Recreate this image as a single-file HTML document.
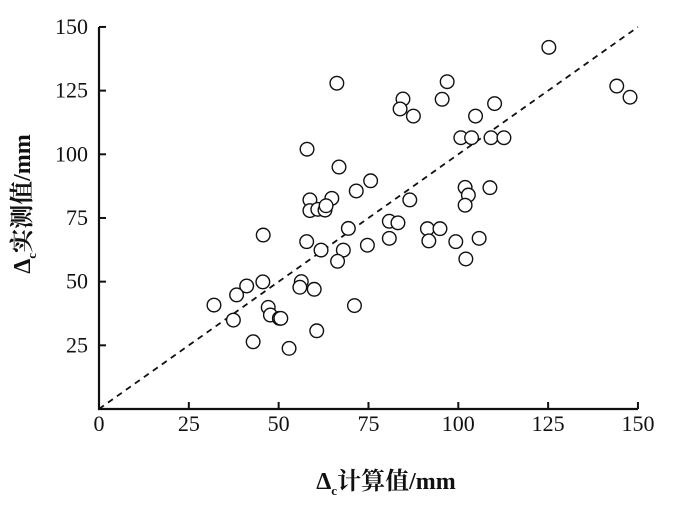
<!DOCTYPE html>
<html><head><meta charset="utf-8"><style>
body{margin:0;background:#fff}
svg text{font-family:"Liberation Serif","Noto Serif CJK SC",serif;fill:#111}
</style></head><body>
<svg width="700" height="503" viewBox="0 0 700 503" xmlns="http://www.w3.org/2000/svg">
<g id="plot"></g>
<text x="386" y="489" text-anchor="middle" font-size="24" font-weight="bold">Δ<tspan font-size="13" dy="6">c</tspan><tspan dy="-6">计算值/mm</tspan></text>
<text transform="translate(30,204) rotate(-90)" text-anchor="middle" font-size="24" font-weight="bold">Δ<tspan font-size="13" dy="6">c</tspan><tspan dy="-6">实测值/mm</tspan></text>
</svg>
<script>
const xTicks=[0,25,50,75,100,125,150];
const yTicks=[25,50,75,100,125,150];
const calcVals=[66.2,57.9,66.8,75.6,71.6,58.7,64.8,58.7,60.9,62.9,63.2,80.8,69.4,45.7,80.8,57.8,74.7,61.8,68.0,66.4,45.6,56.3,41.1,55.9,59.9,38.3,32.0,47.1,71.1,47.7,50.2,50.6,37.4,60.6,42.9,52.9,125.2,144.1,147.8,96.9,95.5,84.6,83.8,87.5,110.1,104.8,100.7,103.7,109.1,112.7,101.9,102.8,101.9,108.8,86.5,83.2,91.4,94.9,91.8,99.3,105.8,102.1];
const measVals=[127.9,102.0,95.0,89.6,85.6,82.1,82.7,77.9,78.4,78.1,79.8,73.7,70.9,68.3,67.0,65.7,64.3,62.4,62.4,58.0,49.9,50.0,48.3,47.8,47.0,44.8,40.8,39.9,40.6,36.9,35.6,35.6,34.9,30.7,26.4,23.8,142.0,126.8,122.4,128.5,121.6,121.7,117.8,115.0,119.9,115.0,106.5,106.5,106.5,106.5,87.0,84.0,80.0,86.9,82.1,73.1,70.8,70.8,66.0,65.7,67.0,58.9];
const X=v=>99+v*3.593, Y=v=>409-v*2.547;
const NS='http://www.w3.org/2000/svg', g=document.getElementById('plot');
function mk(t,a){const e=document.createElementNS(NS,t);for(const k in a)e.setAttribute(k,a[k]);g.appendChild(e);return e;}
let e=mk('line',{x1:X(0),y1:Y(0),x2:X(150),y2:Y(150),stroke:'#111','stroke-width':1.8,'stroke-dasharray':'6,5'});


calcVals.forEach((c,i)=>{const p=mk('circle',{cx:X(c),cy:Y(measVals[i]),r:6.8,fill:'#fff',stroke:'#111','stroke-width':1.4});

});
e=mk('path',{d:`M${X(0)} ${Y(150)} V${Y(0)} H${X(150)}`,fill:'none',stroke:'#111','stroke-width':2.2});


xTicks.forEach(v=>{if(v>0){const t=mk('line',{x1:X(v),x2:X(v),y1:Y(0),y2:Y(0)-7,stroke:'#111','stroke-width':2});

}
const l=mk('text',{x:X(v),y:431,'text-anchor':'middle','font-size':22});l.textContent=v;

});
yTicks.forEach(v=>{const t=mk('line',{x1:X(0),x2:X(0)+7,y1:Y(v),y2:Y(v),stroke:'#111','stroke-width':2});


const l=mk('text',{x:88,y:Y(v)+7,'text-anchor':'end','font-size':22});l.textContent=v;

});
</script>
</body></html>
